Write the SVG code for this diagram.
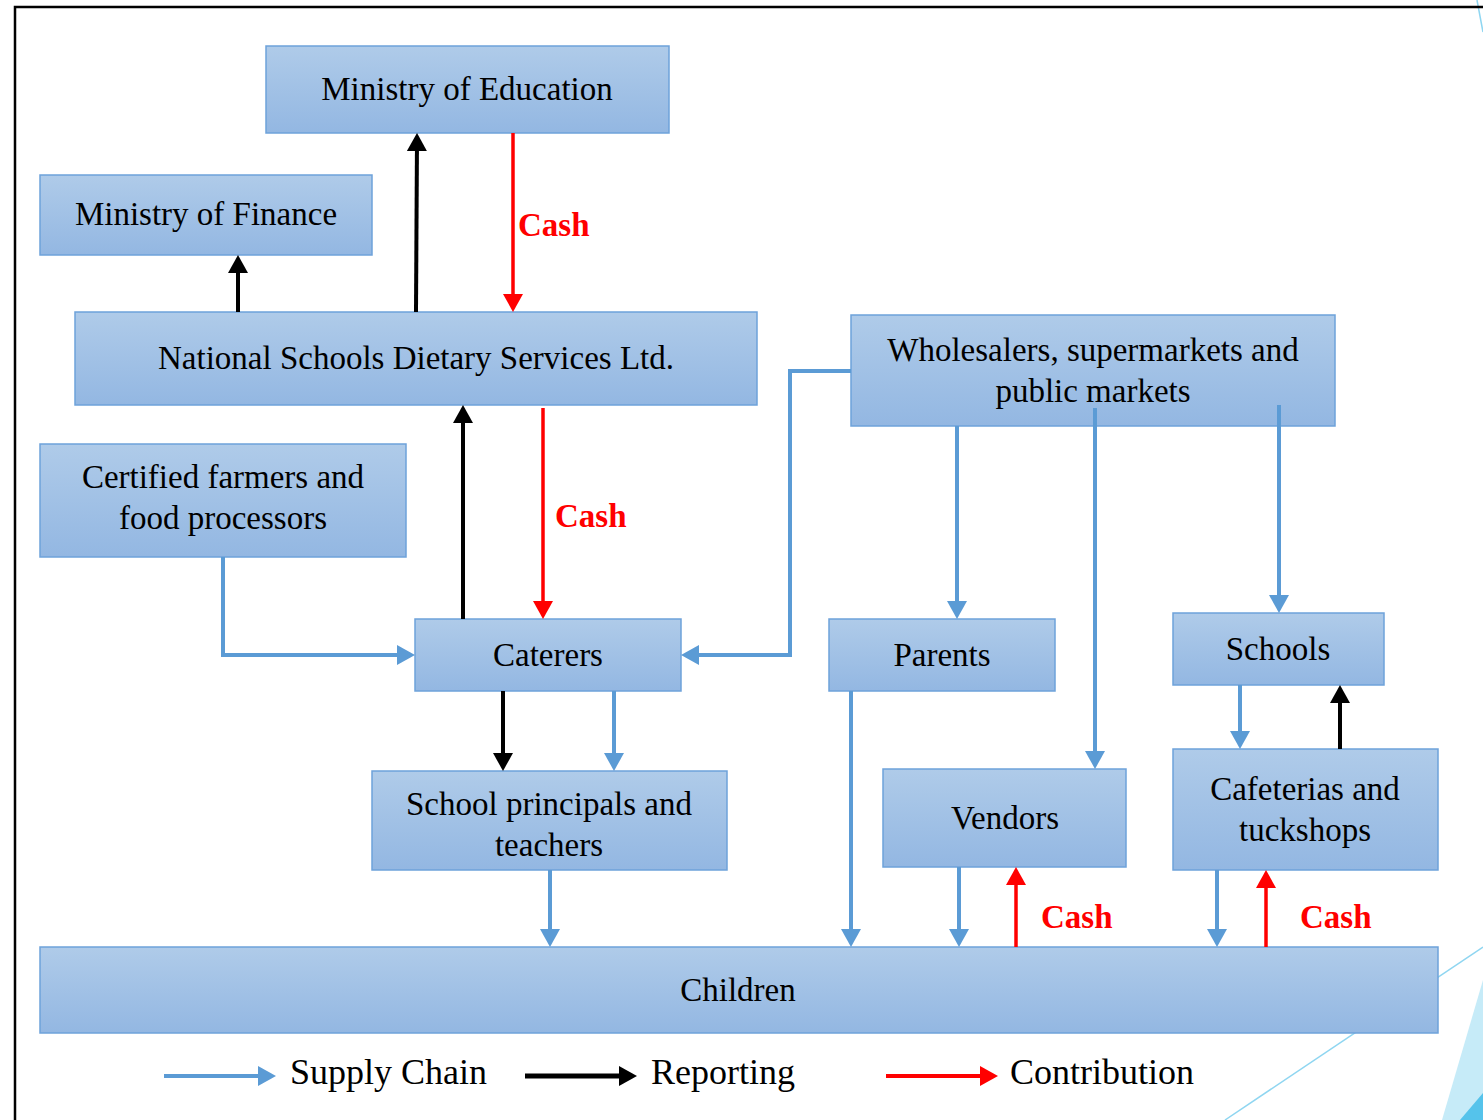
<svg xmlns="http://www.w3.org/2000/svg" width="1483" height="1120" viewBox="0 0 1483 1120">
<style>
.box{fill:url(#g);stroke:#6ea2da;stroke-width:1.5}
.t{font-family:"Liberation Serif","Times New Roman",serif;font-size:33px;fill:#000;text-anchor:middle}
.cash{font-family:"Liberation Serif","Times New Roman",serif;font-size:33px;font-weight:bold;fill:#ff0000}
.lg{font-family:"Liberation Serif","Times New Roman",serif;font-size:36px;fill:#000}
.b{fill:none;stroke:#5b9bd5;stroke-width:4}
.k{fill:none;stroke:#000;stroke-width:4}
.r{fill:none;stroke:#ff0000;stroke-width:3.5}
</style>
<defs>
<linearGradient id="g" x1="0" y1="0" x2="0" y2="1">
<stop offset="0" stop-color="#afcbe9"/>
<stop offset="1" stop-color="#93b7e2"/>
</linearGradient>
<marker id="ab" viewBox="0 0 18 20" refX="12" refY="10" markerWidth="18" markerHeight="20" markerUnits="userSpaceOnUse" orient="auto"><path d="M0,0 L18,10 L0,20 z" fill="#5b9bd5"/></marker>
<marker id="ak" viewBox="0 0 18 20" refX="12" refY="10" markerWidth="18" markerHeight="20" markerUnits="userSpaceOnUse" orient="auto"><path d="M0,0 L18,10 L0,20 z" fill="#000"/></marker>
<marker id="ar" viewBox="0 0 18 20" refX="12" refY="10" markerWidth="18" markerHeight="20" markerUnits="userSpaceOnUse" orient="auto"><path d="M0,0 L18,10 L0,20 z" fill="#ff0000"/></marker>
</defs>
<rect width="1483" height="1120" fill="#fff"/>
<g id="decor">
<line x1="1477" y1="0" x2="1483" y2="32" stroke="#8fd6f1" stroke-width="1.5"/>
<line x1="1483" y1="947" x2="1225" y2="1120" stroke="#8fd6f1" stroke-width="1.5"/>
<polygon points="1483,980 1442,1120 1483,1120" fill="#c6ebf8"/>
<polygon points="1483,1093 1460,1120 1483,1120" fill="#55c3eb"/>
<polyline points="15,1120 15,7 1483,7" fill="none" stroke="#000" stroke-width="2.5"/>
</g>
<g id="moe"><rect class="box" x="266" y="46" width="403" height="87"/><text class="t" x="467" y="100">Ministry of Education</text></g>
<g id="mof"><rect class="box" x="40" y="175" width="332" height="80"/><text class="t" x="206" y="225">Ministry of Finance</text></g>
<g id="nsds"><rect class="box" x="75" y="312" width="682" height="93"/><text class="t" x="416" y="369">National Schools Dietary Services Ltd.</text></g>
<g id="wholesalers"><rect class="box" x="851" y="315" width="484" height="111"/><text class="t" x="1093" y="361">Wholesalers, supermarkets and</text><text class="t" x="1093" y="402">public markets</text></g>
<g id="farmers"><rect class="box" x="40" y="444" width="366" height="113"/><text class="t" x="223" y="488">Certified farmers and</text><text class="t" x="223" y="529">food processors</text></g>
<g id="caterers"><rect class="box" x="415" y="619" width="266" height="72"/><text class="t" x="548" y="666">Caterers</text></g>
<g id="parents"><rect class="box" x="829" y="619" width="226" height="72"/><text class="t" x="942" y="666">Parents</text></g>
<g id="schools"><rect class="box" x="1173" y="613" width="211" height="72"/><text class="t" x="1278" y="660">Schools</text></g>
<g id="principals"><rect class="box" x="372" y="771" width="355" height="99"/><text class="t" x="549" y="815">School principals and</text><text class="t" x="549" y="856">teachers</text></g>
<g id="vendors"><rect class="box" x="883" y="769" width="243" height="98"/><text class="t" x="1005" y="829">Vendors</text></g>
<g id="cafeterias"><rect class="box" x="1173" y="749" width="265" height="121"/><text class="t" x="1305" y="800">Cafeterias and</text><text class="t" x="1305" y="841">tuckshops</text></g>
<g id="children"><rect class="box" x="40" y="947" width="1398" height="86"/><text class="t" x="738" y="1001">Children</text></g>
<g id="connectors">
<path class="k" d="M238,312 V261" marker-end="url(#ak)"/>
<path class="k" d="M416,312 L417,139" marker-end="url(#ak)"/>
<path class="r" d="M513,133 V306" marker-end="url(#ar)"/>
<path class="k" d="M463,619 V411" marker-end="url(#ak)"/>
<path class="r" d="M543,408 V613" marker-end="url(#ar)"/>
<path class="b" d="M223,557 V655 H409" marker-end="url(#ab)"/>
<path class="b" d="M851,371 H790 V655 H687" marker-end="url(#ab)"/>
<path class="b" d="M957,426 V613" marker-end="url(#ab)"/>
<path class="b" d="M1095,408 V763" marker-end="url(#ab)"/>
<path class="b" d="M1279,405 V607" marker-end="url(#ab)"/>
<path class="k" d="M503,691 V765" marker-end="url(#ak)"/>
<path class="b" d="M614,691 V765" marker-end="url(#ab)"/>
<path class="b" d="M1240,685 V743" marker-end="url(#ab)"/>
<path class="k" d="M1340,749 V691" marker-end="url(#ak)"/>
<path class="b" d="M550,870 V941" marker-end="url(#ab)"/>
<path class="b" d="M851,691 V941" marker-end="url(#ab)"/>
<path class="b" d="M959,867 V941" marker-end="url(#ab)"/>
<path class="r" d="M1016,947 V873" marker-end="url(#ar)"/>
<path class="b" d="M1217,870 V941" marker-end="url(#ab)"/>
<path class="r" d="M1266,947 V876" marker-end="url(#ar)"/>
<text class="cash" x="518" y="236">Cash</text>
<text class="cash" x="555" y="527">Cash</text>
<text class="cash" x="1041" y="928">Cash</text>
<text class="cash" x="1300" y="928">Cash</text>
</g>
<g id="legend">
<path class="b" d="M164,1076 H270" marker-end="url(#ab)"/>
<text class="lg" x="290" y="1084">Supply Chain</text>
<path class="k" d="M525,1076 H631" marker-end="url(#ak)" style="stroke-width:5"/>
<text class="lg" x="651" y="1084">Reporting</text>
<path class="r" d="M886,1076 H992" marker-end="url(#ar)" style="stroke-width:4"/>
<text class="lg" x="1010" y="1084">Contribution</text>
</g>
</svg>
